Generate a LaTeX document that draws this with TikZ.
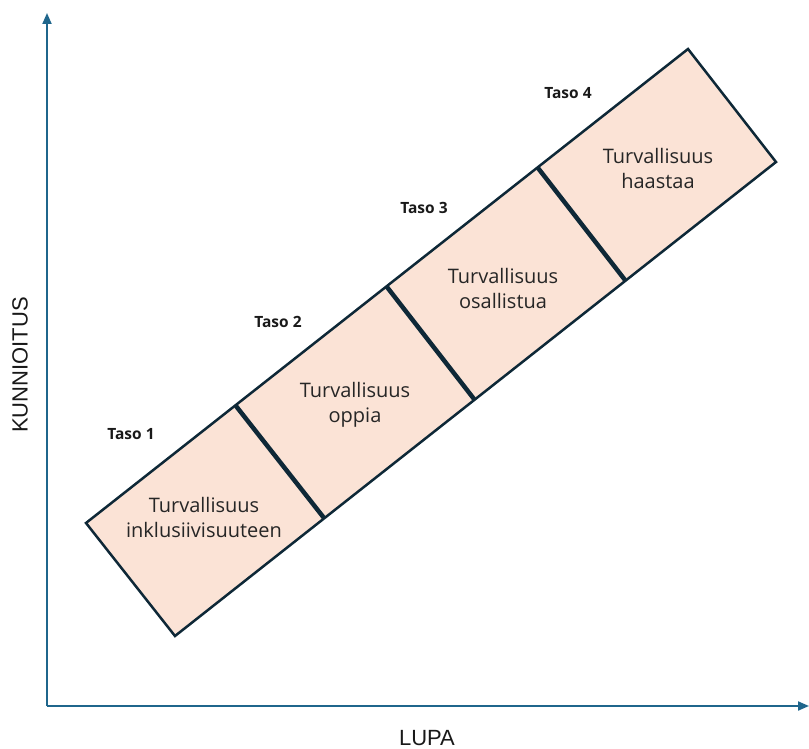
\documentclass[tikz,border=0pt]{standalone}
\usepackage{fontspec}
\setmainfont{Liberation Sans}
\newfontfamily\boxfont{Open Sans}
\usetikzlibrary{arrows.meta}
\definecolor{axisblue}{RGB}{31,102,140}
\definecolor{peach}{RGB}{251,227,214}
\definecolor{edge}{RGB}{14,40,55}
\tikzset{
  axis/.style={draw=axisblue, line width=2pt, -{Triangle[length=11pt,width=9pt]}},
  band/.style={fill=peach, draw=edge, line width=2.5pt, line join=miter},
  divider/.style={draw=edge, line width=4.5pt},
  boxtext/.style={font=\boxfont\fontsize{20}{25}\selectfont, align=center, text=black!85, inner sep=0pt},
  tasotext/.style={font=\boxfont\bfseries\fontsize{15.5}{17}\selectfont, text=black!90, inner sep=0pt},
  axislabel/.style={font=\fontsize{22}{24}\selectfont, text=black!90, inner sep=0pt}
}
\begin{document}
\begin{tikzpicture}[x=1pt,y=-1pt]
\useasboundingbox (0,0) rectangle (809,749);
% corners of the band
\coordinate (L) at (86,523);
\coordinate (B) at (175,636);
\coordinate (T) at (688,49);
\coordinate (R) at (776,162);
\coordinate (d1t) at (236,406);
\coordinate (d1b) at (324,518);
\coordinate (d2t) at (387,287);
\coordinate (d2b) at (474,399);
\coordinate (d3t) at (538,168);
\coordinate (d3b) at (625,280);
% axes
\coordinate (O) at (47,706);
\coordinate (Ytip) at (47,13);
\coordinate (Xtip) at (809,706);
\draw[axis] (O) -- (Ytip);
\draw[axis] (O) -- (Xtip);
% band
\path[band] (L) -- (T) -- (R) -- (B) -- cycle;
\draw[divider] (d1t) -- (d1b);
\draw[divider] (d2t) -- (d2b);
\draw[divider] (d3t) -- (d3b);
% texts
\node[boxtext] (s1) at (204,517) {Turvallisuus\\inklusiivisuuteen};
\node[boxtext] (s2) at (355,405) {Turvallisuus\\oppia};
\node[boxtext] (s3) at (503,288) {Turvallisuus\\osallistua};
\node[boxtext] (s4) at (658,169) {Turvallisuus\\haastaa};
\node[tasotext] (t1) at (131,434) {Taso 1};
\node[tasotext] (t2) at (278,322) {Taso 2};
\node[tasotext] (t3) at (424,208) {Taso 3};
\node[tasotext] (t4) at (568,93) {Taso 4};
\node[axislabel, rotate=90] (ky) at (20,365) {KUNNIOITUS};
\node[axislabel] (kx) at (427,738) {LUPA};
\end{tikzpicture}
\end{document}
